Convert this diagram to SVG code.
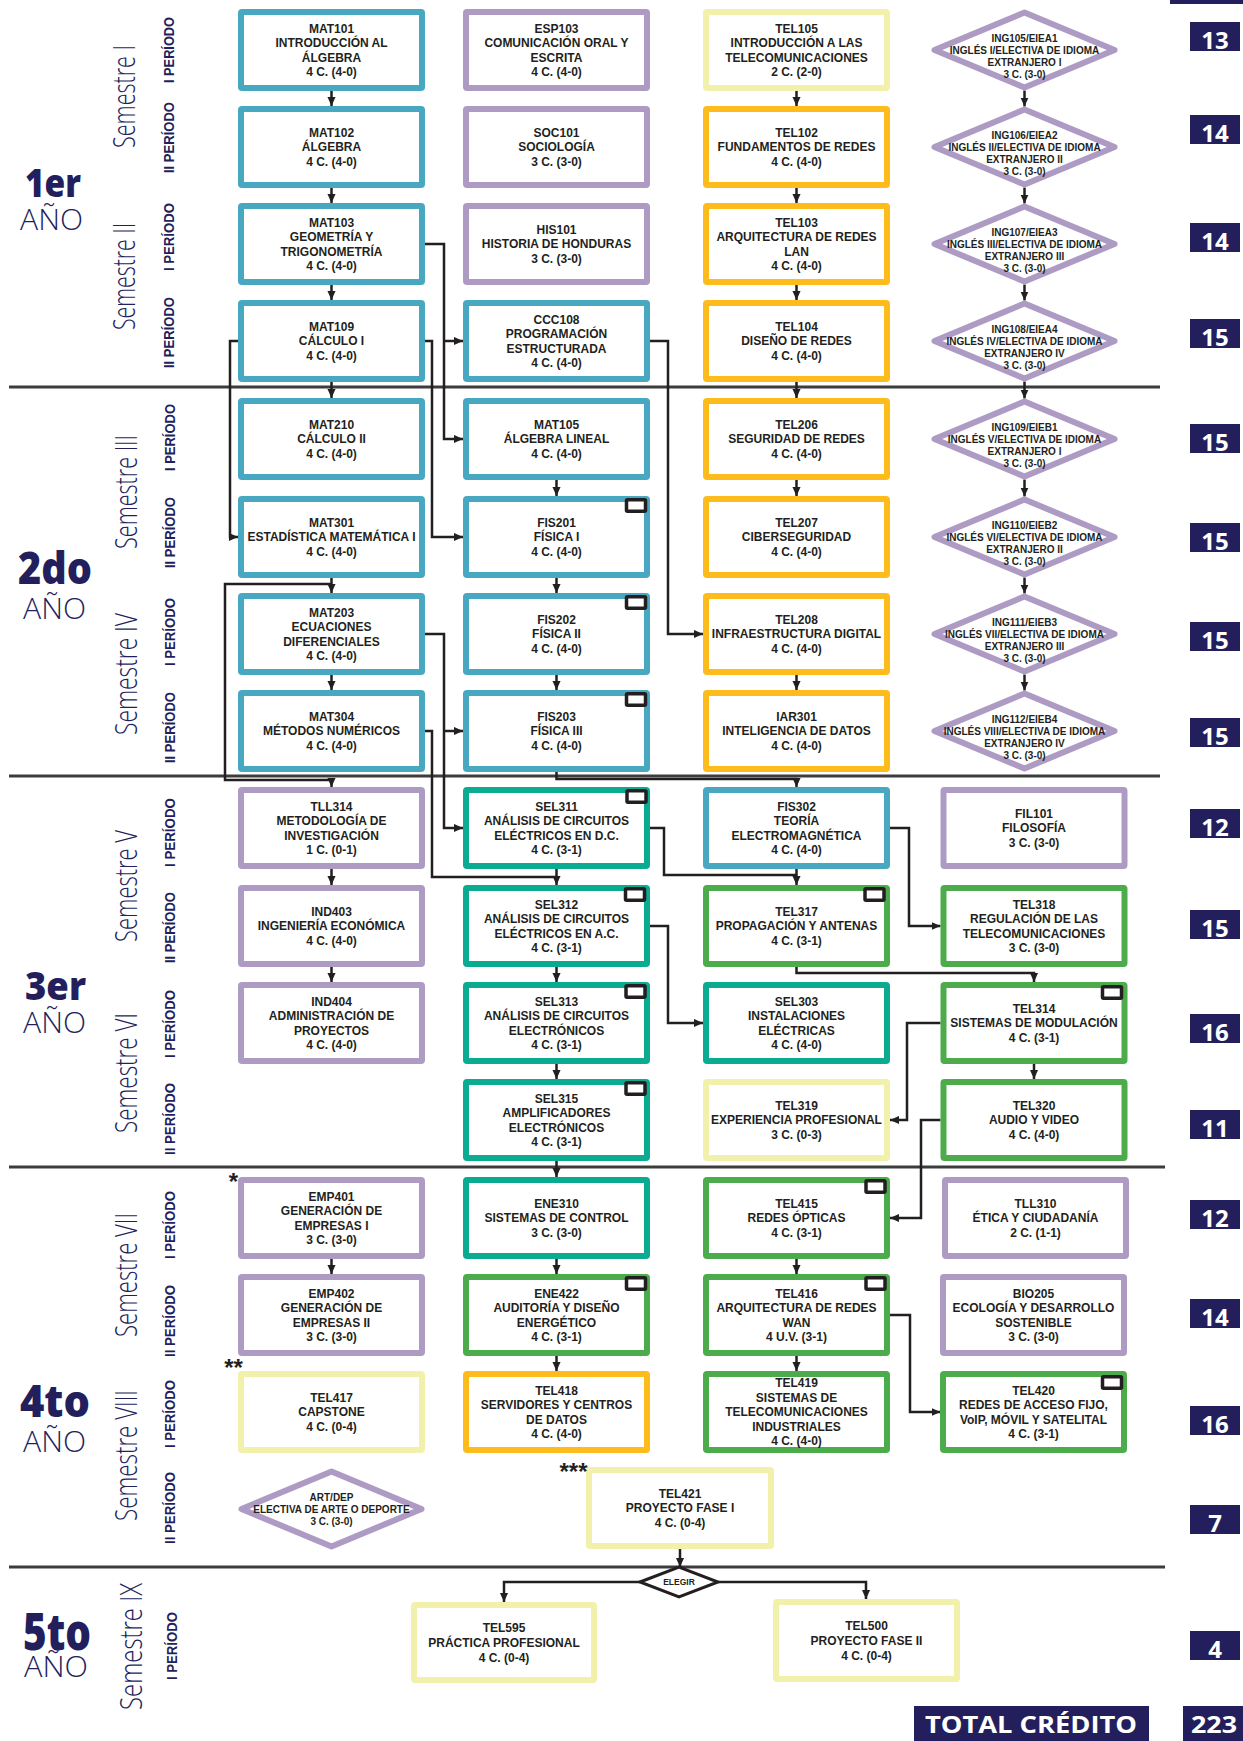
<svg xmlns="http://www.w3.org/2000/svg" width="1243" height="1741" viewBox="0 0 1243 1741">
<defs>
<style>
.b{fill:#fff;stroke-width:6;stroke-linejoin:round}
.blue{stroke:#48a7c1}.pur{stroke:#ad9bc4}.yel{stroke:#f2f1ab}.org{stroke:#fdbc1b}.teal{stroke:#0bab91}.grn{stroke:#4cab4b}
.t{font-family:"Liberation Sans",Arial,Helvetica,sans-serif;font-weight:700;font-size:12px;fill:#231f20;text-anchor:middle}
.td{font-size:10px}
.te{font-size:8.5px}
.lab{fill:#fff;stroke:#231f20;stroke-width:3.5}
.cn{fill:none;stroke:#231f20;stroke-width:2.5}
.sep{stroke:#3c3c3c;stroke-width:3}
.sem{font-family:"Open Sans",sans-serif;font-weight:300;font-size:31px;fill:#231f5c}
.per{font-family:"Liberation Sans",Arial,sans-serif;font-weight:700;font-size:15px;fill:#231f5c}
.yr{font-family:"Open Sans",sans-serif;font-weight:800;fill:#231f5c}
.ano{font-family:"Open Sans",sans-serif;font-weight:300;font-size:30px;fill:#231f5c}
.crb{fill:#231f5c}
.crt{font-family:"Open Sans",sans-serif;font-weight:700;font-size:24px;fill:#fff;text-anchor:middle}
.ast{font-family:"Liberation Sans",Arial,sans-serif;font-weight:700;font-size:24px;fill:#231f20;text-anchor:middle}
</style>
<marker id="ah" viewBox="0 0 10 10" refX="10" refY="5" markerWidth="9" markerHeight="9" markerUnits="userSpaceOnUse" orient="auto"><path d="M0,0.5 L10,5 L0,9.5 z" fill="#231f20"/></marker>
</defs>
<rect width="1243" height="1741" fill="#fff"/>
<rect x="1170" y="0" width="73" height="4" fill="#231f5c"/>

<g id="separators">
<line class="sep" x1="9" y1="387" x2="1160" y2="387"/>
<line class="sep" x1="9" y1="776" x2="1160" y2="776"/>
<line class="sep" x1="9" y1="1167" x2="1165" y2="1167"/>
<line class="sep" x1="9" y1="1567" x2="1165" y2="1567"/>
</g>

<g id="year-labels">
<text class="yr" x="25" y="197" font-size="38" textLength="56" lengthAdjust="spacingAndGlyphs">1er</text>
<text class="ano" x="20" y="230" textLength="63" lengthAdjust="spacingAndGlyphs">AÑO</text>
<text class="yr" x="18" y="584" font-size="45" textLength="74" lengthAdjust="spacingAndGlyphs">2do</text>
<text class="ano" x="23" y="619" textLength="63" lengthAdjust="spacingAndGlyphs">AÑO</text>
<text class="yr" x="25" y="1000" font-size="38" textLength="61" lengthAdjust="spacingAndGlyphs">3er</text>
<text class="ano" x="23" y="1033" textLength="63" lengthAdjust="spacingAndGlyphs">AÑO</text>
<text class="yr" x="20" y="1417" font-size="45" textLength="70" lengthAdjust="spacingAndGlyphs">4to</text>
<text class="ano" x="23" y="1452" textLength="63" lengthAdjust="spacingAndGlyphs">AÑO</text>
<text class="yr" x="23" y="1650" font-size="52" textLength="68" lengthAdjust="spacingAndGlyphs">5to</text>
<text class="ano" x="24" y="1677" textLength="64" lengthAdjust="spacingAndGlyphs">AÑO</text>
</g>

<g id="semester-labels">
<text class="sem" transform="translate(135,148) rotate(-90)" textLength="103" lengthAdjust="spacingAndGlyphs">Semestre I</text>
<text class="sem" transform="translate(135,330) rotate(-90)" textLength="107" lengthAdjust="spacingAndGlyphs">Semestre II</text>
<text class="sem" transform="translate(137,549) rotate(-90)" textLength="114" lengthAdjust="spacingAndGlyphs">Semestre III</text>
<text class="sem" transform="translate(137,735) rotate(-90)" textLength="122" lengthAdjust="spacingAndGlyphs">Semestre IV</text>
<text class="sem" transform="translate(137,942) rotate(-90)" textLength="112" lengthAdjust="spacingAndGlyphs">Semestre V</text>
<text class="sem" transform="translate(137,1133) rotate(-90)" textLength="120" lengthAdjust="spacingAndGlyphs">Semestre VI</text>
<text class="sem" transform="translate(137,1337) rotate(-90)" textLength="124" lengthAdjust="spacingAndGlyphs">Semestre VII</text>
<text class="sem" transform="translate(137,1521) rotate(-90)" textLength="131" lengthAdjust="spacingAndGlyphs">Semestre VIII</text>
<text class="sem" transform="translate(142,1710) rotate(-90)" textLength="127" lengthAdjust="spacingAndGlyphs">Semestre IX</text>
</g>

<g id="period-labels">
<text class="per" transform="translate(174,83) rotate(-90)" textLength="66" lengthAdjust="spacingAndGlyphs">I PERÍODO</text>
<text class="per" transform="translate(174,173) rotate(-90)" textLength="71" lengthAdjust="spacingAndGlyphs">II PERÍODO</text>
<text class="per" transform="translate(174,271) rotate(-90)" textLength="68" lengthAdjust="spacingAndGlyphs">I PERÍODO</text>
<text class="per" transform="translate(174,368) rotate(-90)" textLength="71" lengthAdjust="spacingAndGlyphs">II PERÍODO</text>
<text class="per" transform="translate(175,471) rotate(-90)" textLength="67" lengthAdjust="spacingAndGlyphs">I PERÍODO</text>
<text class="per" transform="translate(175,568) rotate(-90)" textLength="71" lengthAdjust="spacingAndGlyphs">II PERÍODO</text>
<text class="per" transform="translate(175,666) rotate(-90)" textLength="68" lengthAdjust="spacingAndGlyphs">I PERÍODO</text>
<text class="per" transform="translate(175,763) rotate(-90)" textLength="71" lengthAdjust="spacingAndGlyphs">II PERÍODO</text>
<text class="per" transform="translate(175,867) rotate(-90)" textLength="69" lengthAdjust="spacingAndGlyphs">I PERÍODO</text>
<text class="per" transform="translate(175,963) rotate(-90)" textLength="71" lengthAdjust="spacingAndGlyphs">II PERÍODO</text>
<text class="per" transform="translate(175,1058) rotate(-90)" textLength="68" lengthAdjust="spacingAndGlyphs">I PERÍODO</text>
<text class="per" transform="translate(175,1155) rotate(-90)" textLength="72" lengthAdjust="spacingAndGlyphs">II PERÍODO</text>
<text class="per" transform="translate(175,1259) rotate(-90)" textLength="68" lengthAdjust="spacingAndGlyphs">I PERÍODO</text>
<text class="per" transform="translate(175,1357) rotate(-90)" textLength="72" lengthAdjust="spacingAndGlyphs">II PERÍODO</text>
<text class="per" transform="translate(175,1448) rotate(-90)" textLength="68" lengthAdjust="spacingAndGlyphs">I PERÍODO</text>
<text class="per" transform="translate(175,1544) rotate(-90)" textLength="72" lengthAdjust="spacingAndGlyphs">II PERÍODO</text>
<text class="per" transform="translate(177,1680) rotate(-90)" textLength="68" lengthAdjust="spacingAndGlyphs">I PERÍODO</text>
</g>

<g id="connectors">
<path class="cn" marker-end="url(#ah)" d="M331.5,91 V106"/>
<path class="cn" marker-end="url(#ah)" d="M331.5,188 V203"/>
<path class="cn" marker-end="url(#ah)" d="M331.5,285 V300"/>
<path class="cn" marker-end="url(#ah)" d="M331.5,382 V398"/>
<path class="cn" marker-end="url(#ah)" d="M331.5,578 V593"/>
<path class="cn" marker-end="url(#ah)" d="M331.5,675 V690"/>
<path class="cn" marker-end="url(#ah)" d="M331.5,869 V885"/>
<path class="cn" marker-end="url(#ah)" d="M331.5,967 V982"/>
<path class="cn" marker-end="url(#ah)" d="M331.5,1259 V1274"/>
<path class="cn" marker-end="url(#ah)" d="M556.5,480 V496"/>
<path class="cn" marker-end="url(#ah)" d="M556.5,578 V593"/>
<path class="cn" marker-end="url(#ah)" d="M556.5,675 V690"/>
<path class="cn" marker-end="url(#ah)" d="M556.5,869 V885"/>
<path class="cn" marker-end="url(#ah)" d="M556.5,967 V982"/>
<path class="cn" marker-end="url(#ah)" d="M556.5,1064 V1079"/>
<path class="cn" marker-end="url(#ah)" d="M556.5,1161 V1177"/>
<path class="cn" marker-end="url(#ah)" d="M556.5,1259 V1274"/>
<path class="cn" marker-end="url(#ah)" d="M556.5,1356 V1371"/>
<path class="cn" marker-end="url(#ah)" d="M796.5,91 V106"/>
<path class="cn" marker-end="url(#ah)" d="M796.5,188 V203"/>
<path class="cn" marker-end="url(#ah)" d="M796.5,285 V300"/>
<path class="cn" marker-end="url(#ah)" d="M796.5,382 V398"/>
<path class="cn" marker-end="url(#ah)" d="M796.5,480 V496"/>
<path class="cn" marker-end="url(#ah)" d="M796.5,675 V690"/>
<path class="cn" marker-end="url(#ah)" d="M796.5,869 V885"/>
<path class="cn" marker-end="url(#ah)" d="M796.5,1259 V1274"/>
<path class="cn" marker-end="url(#ah)" d="M796.5,1356 V1371"/>
<path class="cn" marker-end="url(#ah)" d="M1024.5,90.5 V106.5"/>
<path class="cn" marker-end="url(#ah)" d="M1024.5,187.5 V203.5"/>
<path class="cn" marker-end="url(#ah)" d="M1024.5,284.5 V300.5"/>
<path class="cn" marker-end="url(#ah)" d="M1024.5,381.5 V398.5"/>
<path class="cn" marker-end="url(#ah)" d="M1024.5,479.5 V496.5"/>
<path class="cn" marker-end="url(#ah)" d="M1024.5,577.5 V593.5"/>
<path class="cn" marker-end="url(#ah)" d="M1024.5,674.5 V690.5"/>
<path class="cn" marker-end="url(#ah)" d="M1034,1064 V1079"/>
<path class="cn" marker-end="url(#ah)" d="M425,244 H444 V439 H463"/>
<path class="cn" marker-end="url(#ah)" d="M444,341 H463"/>
<path class="cn" marker-end="url(#ah)" d="M425,341 H432 V537 H463"/>
<path class="cn" marker-end="url(#ah)" d="M238,341 H230 V537 H238"/>
<path class="cn" marker-end="url(#ah)" d="M331.5,584 H225 V780 H331.5 V787"/>
<path class="cn" marker-end="url(#ah)" d="M650,341 H668 V634 H703"/>
<path class="cn" marker-end="url(#ah)" d="M425,634 H444 V828 H463"/>
<path class="cn" marker-end="url(#ah)" d="M444,731 H463"/>
<path class="cn" d="M425,731 H432 V877 H556.5"/>
<path class="cn" marker-end="url(#ah)" d="M556.5,772 V779 H796.5 V787"/>
<path class="cn" d="M650,828 H664 V875 H796.5"/>
<path class="cn" marker-end="url(#ah)" d="M890,828 H909 V926 H940.5"/>
<path class="cn" marker-end="url(#ah)" d="M650,926 H668 V1023 H703"/>
<path class="cn" marker-end="url(#ah)" d="M796.5,966 V973 H1034 V982"/>
<path class="cn" marker-end="url(#ah)" d="M940.5,1023 H907 V1120 H890"/>
<path class="cn" marker-end="url(#ah)" d="M940.5,1120 H921 V1218 H890"/>
<path class="cn" marker-end="url(#ah)" d="M890,1315 H910 V1412 H940.5"/>
<path class="cn" marker-end="url(#ah)" d="M680,1549 V1567"/>
<path class="cn" marker-end="url(#ah)" d="M640,1582 H504 V1602"/>
<path class="cn" marker-end="url(#ah)" d="M718,1582 H866 V1599"/>
</g>

<g id="MAT101"><rect class="b blue" x="241" y="12" width="181" height="76" rx="1"/><text class="t" x="331.5" y="32.55"><tspan x="331.5">MAT101</tspan><tspan x="331.5" dy="14.5">INTRODUCCIÓN AL</tspan><tspan x="331.5" dy="14.5">ÁLGEBRA</tspan><tspan x="331.5" dy="14.5">4 C. (4-0)</tspan></text></g>
<g id="ESP103"><rect class="b pur" x="466" y="12" width="181" height="76" rx="1"/><text class="t" x="556.5" y="32.55"><tspan x="556.5">ESP103</tspan><tspan x="556.5" dy="14.5">COMUNICACIÓN ORAL Y</tspan><tspan x="556.5" dy="14.5">ESCRITA</tspan><tspan x="556.5" dy="14.5">4 C. (4-0)</tspan></text></g>
<g id="TEL105"><rect class="b yel" x="706" y="12" width="181" height="76" rx="1"/><text class="t" x="796.5" y="32.55"><tspan x="796.5">TEL105</tspan><tspan x="796.5" dy="14.5">INTRODUCCIÓN A LAS</tspan><tspan x="796.5" dy="14.5">TELECOMUNICACIONES</tspan><tspan x="796.5" dy="14.5">2 C. (2-0)</tspan></text></g>
<g id="ING105"><polygon class="b pur" points="934.5,50 1024.5,12.5 1114.5,50 1024.5,87.5"/><text class="t td" x="1024.5" y="41.6"><tspan x="1024.5">ING105/EIEA1</tspan><tspan x="1024.5" dy="12">INGLÉS I/ELECTIVA DE IDIOMA</tspan><tspan x="1024.5" dy="12">EXTRANJERO I</tspan><tspan x="1024.5" dy="12">3 C. (3-0)</tspan></text></g>

<g id="MAT102"><rect class="b blue" x="241" y="109" width="181" height="76" rx="1"/><text class="t" x="331.5" y="136.8"><tspan x="331.5">MAT102</tspan><tspan x="331.5" dy="14.5">ÁLGEBRA</tspan><tspan x="331.5" dy="14.5">4 C. (4-0)</tspan></text></g>
<g id="SOC101"><rect class="b pur" x="466" y="109" width="181" height="76" rx="1"/><text class="t" x="556.5" y="136.8"><tspan x="556.5">SOC101</tspan><tspan x="556.5" dy="14.5">SOCIOLOGÍA</tspan><tspan x="556.5" dy="14.5">3 C. (3-0)</tspan></text></g>
<g id="TEL102"><rect class="b org" x="706" y="109" width="181" height="76" rx="1"/><text class="t" x="796.5" y="136.8"><tspan x="796.5">TEL102</tspan><tspan x="796.5" dy="14.5">FUNDAMENTOS DE REDES</tspan><tspan x="796.5" dy="14.5">4 C. (4-0)</tspan></text></g>
<g id="ING106"><polygon class="b pur" points="934.5,147 1024.5,109.5 1114.5,147 1024.5,184.5"/><text class="t td" x="1024.5" y="138.6"><tspan x="1024.5">ING106/EIEA2</tspan><tspan x="1024.5" dy="12">INGLÉS II/ELECTIVA DE IDIOMA</tspan><tspan x="1024.5" dy="12">EXTRANJERO II</tspan><tspan x="1024.5" dy="12">3 C. (3-0)</tspan></text></g>

<g id="MAT103"><rect class="b blue" x="241" y="206" width="181" height="76" rx="1"/><text class="t" x="331.5" y="226.55"><tspan x="331.5">MAT103</tspan><tspan x="331.5" dy="14.5">GEOMETRÍA Y</tspan><tspan x="331.5" dy="14.5">TRIGONOMETRÍA</tspan><tspan x="331.5" dy="14.5">4 C. (4-0)</tspan></text></g>
<g id="HIS101"><rect class="b pur" x="466" y="206" width="181" height="76" rx="1"/><text class="t" x="556.5" y="233.8"><tspan x="556.5">HIS101</tspan><tspan x="556.5" dy="14.5">HISTORIA DE HONDURAS</tspan><tspan x="556.5" dy="14.5">3 C. (3-0)</tspan></text></g>
<g id="TEL103"><rect class="b org" x="706" y="206" width="181" height="76" rx="1"/><text class="t" x="796.5" y="226.55"><tspan x="796.5">TEL103</tspan><tspan x="796.5" dy="14.5">ARQUITECTURA DE REDES</tspan><tspan x="796.5" dy="14.5">LAN</tspan><tspan x="796.5" dy="14.5">4 C. (4-0)</tspan></text></g>
<g id="ING107"><polygon class="b pur" points="934.5,244 1024.5,206.5 1114.5,244 1024.5,281.5"/><text class="t td" x="1024.5" y="235.6"><tspan x="1024.5">ING107/EIEA3</tspan><tspan x="1024.5" dy="12">INGLÉS III/ELECTIVA DE IDIOMA</tspan><tspan x="1024.5" dy="12">EXTRANJERO III</tspan><tspan x="1024.5" dy="12">3 C. (3-0)</tspan></text></g>

<g id="MAT109"><rect class="b blue" x="241" y="303" width="181" height="76" rx="1"/><text class="t" x="331.5" y="330.8"><tspan x="331.5">MAT109</tspan><tspan x="331.5" dy="14.5">CÁLCULO I</tspan><tspan x="331.5" dy="14.5">4 C. (4-0)</tspan></text></g>
<g id="CCC108"><rect class="b blue" x="466" y="303" width="181" height="76" rx="1"/><text class="t" x="556.5" y="323.55"><tspan x="556.5">CCC108</tspan><tspan x="556.5" dy="14.5">PROGRAMACIÓN</tspan><tspan x="556.5" dy="14.5">ESTRUCTURADA</tspan><tspan x="556.5" dy="14.5">4 C. (4-0)</tspan></text></g>
<g id="TEL104"><rect class="b org" x="706" y="303" width="181" height="76" rx="1"/><text class="t" x="796.5" y="330.8"><tspan x="796.5">TEL104</tspan><tspan x="796.5" dy="14.5">DISEÑO DE REDES</tspan><tspan x="796.5" dy="14.5">4 C. (4-0)</tspan></text></g>
<g id="ING108"><polygon class="b pur" points="934.5,341 1024.5,303.5 1114.5,341 1024.5,378.5"/><text class="t td" x="1024.5" y="332.6"><tspan x="1024.5">ING108/EIEA4</tspan><tspan x="1024.5" dy="12">INGLÉS IV/ELECTIVA DE IDIOMA</tspan><tspan x="1024.5" dy="12">EXTRANJERO IV</tspan><tspan x="1024.5" dy="12">3 C. (3-0)</tspan></text></g>

<g id="MAT210"><rect class="b blue" x="241" y="401" width="181" height="76" rx="1"/><text class="t" x="331.5" y="428.8"><tspan x="331.5">MAT210</tspan><tspan x="331.5" dy="14.5">CÁLCULO II</tspan><tspan x="331.5" dy="14.5">4 C. (4-0)</tspan></text></g>
<g id="MAT105"><rect class="b blue" x="466" y="401" width="181" height="76" rx="1"/><text class="t" x="556.5" y="428.8"><tspan x="556.5">MAT105</tspan><tspan x="556.5" dy="14.5">ÁLGEBRA LINEAL</tspan><tspan x="556.5" dy="14.5">4 C. (4-0)</tspan></text></g>
<g id="TEL206"><rect class="b org" x="706" y="401" width="181" height="76" rx="1"/><text class="t" x="796.5" y="428.8"><tspan x="796.5">TEL206</tspan><tspan x="796.5" dy="14.5">SEGURIDAD DE REDES</tspan><tspan x="796.5" dy="14.5">4 C. (4-0)</tspan></text></g>
<g id="ING109"><polygon class="b pur" points="934.5,439 1024.5,401.5 1114.5,439 1024.5,476.5"/><text class="t td" x="1024.5" y="430.6"><tspan x="1024.5">ING109/EIEB1</tspan><tspan x="1024.5" dy="12">INGLÉS V/ELECTIVA DE IDIOMA</tspan><tspan x="1024.5" dy="12">EXTRANJERO I</tspan><tspan x="1024.5" dy="12">3 C. (3-0)</tspan></text></g>

<g id="MAT301"><rect class="b blue" x="241" y="499" width="181" height="76" rx="1"/><text class="t" x="331.5" y="526.8"><tspan x="331.5">MAT301</tspan><tspan x="331.5" dy="14.5">ESTADÍSTICA MATEMÁTICA I</tspan><tspan x="331.5" dy="14.5">4 C. (4-0)</tspan></text></g>
<g id="FIS201"><rect class="b blue" x="466" y="499" width="181" height="76" rx="1"/><rect class="lab" x="626.5" y="499.75" width="19" height="11.5" rx="1"/><text class="t" x="556.5" y="526.8"><tspan x="556.5">FIS201</tspan><tspan x="556.5" dy="14.5">FÍSICA I</tspan><tspan x="556.5" dy="14.5">4 C. (4-0)</tspan></text></g>
<g id="TEL207"><rect class="b org" x="706" y="499" width="181" height="76" rx="1"/><text class="t" x="796.5" y="526.8"><tspan x="796.5">TEL207</tspan><tspan x="796.5" dy="14.5">CIBERSEGURIDAD</tspan><tspan x="796.5" dy="14.5">4 C. (4-0)</tspan></text></g>
<g id="ING110"><polygon class="b pur" points="934.5,537 1024.5,499.5 1114.5,537 1024.5,574.5"/><text class="t td" x="1024.5" y="528.6"><tspan x="1024.5">ING110/EIEB2</tspan><tspan x="1024.5" dy="12">INGLÉS VI/ELECTIVA DE IDIOMA</tspan><tspan x="1024.5" dy="12">EXTRANJERO II</tspan><tspan x="1024.5" dy="12">3 C. (3-0)</tspan></text></g>

<g id="MAT203"><rect class="b blue" x="241" y="596" width="181" height="76" rx="1"/><text class="t" x="331.5" y="616.55"><tspan x="331.5">MAT203</tspan><tspan x="331.5" dy="14.5">ECUACIONES</tspan><tspan x="331.5" dy="14.5">DIFERENCIALES</tspan><tspan x="331.5" dy="14.5">4 C. (4-0)</tspan></text></g>
<g id="FIS202"><rect class="b blue" x="466" y="596" width="181" height="76" rx="1"/><rect class="lab" x="626.5" y="596.75" width="19" height="11.5" rx="1"/><text class="t" x="556.5" y="623.8"><tspan x="556.5">FIS202</tspan><tspan x="556.5" dy="14.5">FÍSICA II</tspan><tspan x="556.5" dy="14.5">4 C. (4-0)</tspan></text></g>
<g id="TEL208"><rect class="b org" x="706" y="596" width="181" height="76" rx="1"/><text class="t" x="796.5" y="623.8"><tspan x="796.5">TEL208</tspan><tspan x="796.5" dy="14.5">INFRAESTRUCTURA DIGITAL</tspan><tspan x="796.5" dy="14.5">4 C. (4-0)</tspan></text></g>
<g id="ING111"><polygon class="b pur" points="934.5,634 1024.5,596.5 1114.5,634 1024.5,671.5"/><text class="t td" x="1024.5" y="625.6"><tspan x="1024.5">ING111/EIEB3</tspan><tspan x="1024.5" dy="12">INGLÉS VII/ELECTIVA DE IDIOMA</tspan><tspan x="1024.5" dy="12">EXTRANJERO III</tspan><tspan x="1024.5" dy="12">3 C. (3-0)</tspan></text></g>

<g id="MAT304"><rect class="b blue" x="241" y="693" width="181" height="76" rx="1"/><text class="t" x="331.5" y="720.8"><tspan x="331.5">MAT304</tspan><tspan x="331.5" dy="14.5">MÉTODOS NUMÉRICOS</tspan><tspan x="331.5" dy="14.5">4 C. (4-0)</tspan></text></g>
<g id="FIS203"><rect class="b blue" x="466" y="693" width="181" height="76" rx="1"/><rect class="lab" x="626.5" y="693.75" width="19" height="11.5" rx="1"/><text class="t" x="556.5" y="720.8"><tspan x="556.5">FIS203</tspan><tspan x="556.5" dy="14.5">FÍSICA III</tspan><tspan x="556.5" dy="14.5">4 C. (4-0)</tspan></text></g>
<g id="IAR301"><rect class="b org" x="706" y="693" width="181" height="76" rx="1"/><text class="t" x="796.5" y="720.8"><tspan x="796.5">IAR301</tspan><tspan x="796.5" dy="14.5">INTELIGENCIA DE DATOS</tspan><tspan x="796.5" dy="14.5">4 C. (4-0)</tspan></text></g>
<g id="ING112"><polygon class="b pur" points="934.5,731 1024.5,693.5 1114.5,731 1024.5,768.5"/><text class="t td" x="1024.5" y="722.6"><tspan x="1024.5">ING112/EIEB4</tspan><tspan x="1024.5" dy="12">INGLÉS VIII/ELECTIVA DE IDIOMA</tspan><tspan x="1024.5" dy="12">EXTRANJERO IV</tspan><tspan x="1024.5" dy="12">3 C. (3-0)</tspan></text></g>

<g id="TLL314"><rect class="b pur" x="241" y="790" width="181" height="76" rx="1"/><text class="t" x="331.5" y="810.55"><tspan x="331.5">TLL314</tspan><tspan x="331.5" dy="14.5">METODOLOGÍA DE</tspan><tspan x="331.5" dy="14.5">INVESTIGACIÓN</tspan><tspan x="331.5" dy="14.5">1 C. (0-1)</tspan></text></g>
<g id="SEL311"><rect class="b teal" x="466" y="790" width="181" height="76" rx="1"/><rect class="lab" x="627" y="790.75" width="19" height="11.5" rx="1"/><text class="t" x="556.5" y="810.55"><tspan x="556.5">SEL311</tspan><tspan x="556.5" dy="14.5">ANÁLISIS DE CIRCUITOS</tspan><tspan x="556.5" dy="14.5">ELÉCTRICOS EN D.C.</tspan><tspan x="556.5" dy="14.5">4 C. (3-1)</tspan></text></g>
<g id="FIS302"><rect class="b blue" x="706" y="790" width="181" height="76" rx="1"/><text class="t" x="796.5" y="810.55"><tspan x="796.5">FIS302</tspan><tspan x="796.5" dy="14.5">TEORÍA</tspan><tspan x="796.5" dy="14.5">ELECTROMAGNÉTICA</tspan><tspan x="796.5" dy="14.5">4 C. (4-0)</tspan></text></g>
<g id="FIL101"><rect class="b pur" x="943.5" y="790" width="181" height="76" rx="1"/><text class="t" x="1034" y="817.8"><tspan x="1034">FIL101</tspan><tspan x="1034" dy="14.5">FILOSOFÍA</tspan><tspan x="1034" dy="14.5">3 C. (3-0)</tspan></text></g>

<g id="IND403"><rect class="b pur" x="241" y="888" width="181" height="76" rx="1"/><text class="t" x="331.5" y="915.8"><tspan x="331.5">IND403</tspan><tspan x="331.5" dy="14.5">INGENIERÍA ECONÓMICA</tspan><tspan x="331.5" dy="14.5">4 C. (4-0)</tspan></text></g>
<g id="SEL312"><rect class="b teal" x="466" y="888" width="181" height="76" rx="1"/><rect class="lab" x="625.5" y="888.75" width="19" height="11.5" rx="1"/><text class="t" x="556.5" y="908.55"><tspan x="556.5">SEL312</tspan><tspan x="556.5" dy="14.5">ANÁLISIS DE CIRCUITOS</tspan><tspan x="556.5" dy="14.5">ELÉCTRICOS EN A.C.</tspan><tspan x="556.5" dy="14.5">4 C. (3-1)</tspan></text></g>
<g id="TEL317"><rect class="b grn" x="706" y="888" width="181" height="76" rx="1"/><rect class="lab" x="865" y="888.75" width="19" height="11.5" rx="1"/><text class="t" x="796.5" y="915.8"><tspan x="796.5">TEL317</tspan><tspan x="796.5" dy="14.5">PROPAGACIÓN Y ANTENAS</tspan><tspan x="796.5" dy="14.5">4 C. (3-1)</tspan></text></g>
<g id="TEL318"><rect class="b grn" x="943.5" y="888" width="181" height="76" rx="1"/><text class="t" x="1034" y="908.55"><tspan x="1034">TEL318</tspan><tspan x="1034" dy="14.5">REGULACIÓN DE LAS</tspan><tspan x="1034" dy="14.5">TELECOMUNICACIONES</tspan><tspan x="1034" dy="14.5">3 C. (3-0)</tspan></text></g>

<g id="IND404"><rect class="b pur" x="241" y="985" width="181" height="76" rx="1"/><text class="t" x="331.5" y="1005.55"><tspan x="331.5">IND404</tspan><tspan x="331.5" dy="14.5">ADMINISTRACIÓN DE</tspan><tspan x="331.5" dy="14.5">PROYECTOS</tspan><tspan x="331.5" dy="14.5">4 C. (4-0)</tspan></text></g>
<g id="SEL313"><rect class="b teal" x="466" y="985" width="181" height="76" rx="1"/><rect class="lab" x="626" y="985.75" width="19" height="11.5" rx="1"/><text class="t" x="556.5" y="1005.55"><tspan x="556.5">SEL313</tspan><tspan x="556.5" dy="14.5">ANÁLISIS DE CIRCUITOS</tspan><tspan x="556.5" dy="14.5">ELECTRÓNICOS</tspan><tspan x="556.5" dy="14.5">4 C. (3-1)</tspan></text></g>
<g id="SEL303"><rect class="b teal" x="706" y="985" width="181" height="76" rx="1"/><text class="t" x="796.5" y="1005.55"><tspan x="796.5">SEL303</tspan><tspan x="796.5" dy="14.5">INSTALACIONES</tspan><tspan x="796.5" dy="14.5">ELÉCTRICAS</tspan><tspan x="796.5" dy="14.5">4 C. (4-0)</tspan></text></g>
<g id="TEL314"><rect class="b grn" x="943.5" y="985" width="181" height="76" rx="1"/><rect class="lab" x="1102.5" y="986.75" width="19" height="11.5" rx="1"/><text class="t" x="1034" y="1012.8"><tspan x="1034">TEL314</tspan><tspan x="1034" dy="14.5">SISTEMAS DE MODULACIÓN</tspan><tspan x="1034" dy="14.5">4 C. (3-1)</tspan></text></g>

<g id="SEL315"><rect class="b teal" x="466" y="1082" width="181" height="76" rx="1"/><rect class="lab" x="626" y="1082.75" width="19" height="11.5" rx="1"/><text class="t" x="556.5" y="1102.55"><tspan x="556.5">SEL315</tspan><tspan x="556.5" dy="14.5">AMPLIFICADORES</tspan><tspan x="556.5" dy="14.5">ELECTRÓNICOS</tspan><tspan x="556.5" dy="14.5">4 C. (3-1)</tspan></text></g>
<g id="TEL319"><rect class="b yel" x="706" y="1082" width="181" height="76" rx="1"/><text class="t" x="796.5" y="1109.8"><tspan x="796.5">TEL319</tspan><tspan x="796.5" dy="14.5">EXPERIENCIA PROFESIONAL</tspan><tspan x="796.5" dy="14.5">3 C. (0-3)</tspan></text></g>
<g id="TEL320"><rect class="b grn" x="943.5" y="1082" width="181" height="76" rx="1"/><text class="t" x="1034" y="1109.8"><tspan x="1034">TEL320</tspan><tspan x="1034" dy="14.5">AUDIO Y VIDEO</tspan><tspan x="1034" dy="14.5">4 C. (4-0)</tspan></text></g>

<g id="EMP401"><rect class="b pur" x="241" y="1180" width="181" height="76" rx="1"/><text class="t" x="331.5" y="1200.55"><tspan x="331.5">EMP401</tspan><tspan x="331.5" dy="14.5">GENERACIÓN DE</tspan><tspan x="331.5" dy="14.5">EMPRESAS I</tspan><tspan x="331.5" dy="14.5">3 C. (3-0)</tspan></text><text class="ast" x="233.5" y="1189.5">*</text></g>
<g id="ENE310"><rect class="b teal" x="466" y="1180" width="181" height="76" rx="1"/><text class="t" x="556.5" y="1207.8"><tspan x="556.5">ENE310</tspan><tspan x="556.5" dy="14.5">SISTEMAS DE CONTROL</tspan><tspan x="556.5" dy="14.5">3 C. (3-0)</tspan></text></g>
<g id="TEL415"><rect class="b grn" x="706" y="1180" width="181" height="76" rx="1"/><rect class="lab" x="866" y="1180.75" width="19" height="11.5" rx="1"/><text class="t" x="796.5" y="1207.8"><tspan x="796.5">TEL415</tspan><tspan x="796.5" dy="14.5">REDES ÓPTICAS</tspan><tspan x="796.5" dy="14.5">4 C. (3-1)</tspan></text></g>
<g id="TLL310"><rect class="b pur" x="945" y="1180" width="181" height="76" rx="1"/><text class="t" x="1035.5" y="1207.8"><tspan x="1035.5">TLL310</tspan><tspan x="1035.5" dy="14.5">ÉTICA Y CIUDADANÍA</tspan><tspan x="1035.5" dy="14.5">2 C. (1-1)</tspan></text></g>

<g id="EMP402"><rect class="b pur" x="241" y="1277" width="181" height="76" rx="1"/><text class="t" x="331.5" y="1297.55"><tspan x="331.5">EMP402</tspan><tspan x="331.5" dy="14.5">GENERACIÓN DE</tspan><tspan x="331.5" dy="14.5">EMPRESAS II</tspan><tspan x="331.5" dy="14.5">3 C. (3-0)</tspan></text></g>
<g id="ENE422"><rect class="b grn" x="466" y="1277" width="181" height="76" rx="1"/><rect class="lab" x="626.5" y="1277.75" width="19" height="11.5" rx="1"/><text class="t" x="556.5" y="1297.55"><tspan x="556.5">ENE422</tspan><tspan x="556.5" dy="14.5">AUDITORÍA Y DISEÑO</tspan><tspan x="556.5" dy="14.5">ENERGÉTICO</tspan><tspan x="556.5" dy="14.5">4 C. (3-1)</tspan></text></g>
<g id="TEL416"><rect class="b grn" x="706" y="1277" width="181" height="76" rx="1"/><rect class="lab" x="866" y="1277.75" width="19" height="11.5" rx="1"/><text class="t" x="796.5" y="1297.55"><tspan x="796.5">TEL416</tspan><tspan x="796.5" dy="14.5">ARQUITECTURA DE REDES</tspan><tspan x="796.5" dy="14.5">WAN</tspan><tspan x="796.5" dy="14.5">4 U.V. (3-1)</tspan></text></g>
<g id="BIO205"><rect class="b pur" x="943" y="1277" width="181" height="76" rx="1"/><text class="t" x="1033.5" y="1297.55"><tspan x="1033.5">BIO205</tspan><tspan x="1033.5" dy="14.5">ECOLOGÍA Y DESARROLLO</tspan><tspan x="1033.5" dy="14.5">SOSTENIBLE</tspan><tspan x="1033.5" dy="14.5">3 C. (3-0)</tspan></text></g>

<g id="TEL417"><rect class="b yel" x="241" y="1374" width="181" height="76" rx="1"/><text class="t" x="331.5" y="1401.8"><tspan x="331.5">TEL417</tspan><tspan x="331.5" dy="14.5">CAPSTONE</tspan><tspan x="331.5" dy="14.5">4 C. (0-4)</tspan></text><text class="ast" x="233.5" y="1375.5">**</text></g>
<g id="TEL418"><rect class="b org" x="466" y="1374" width="181" height="76" rx="1"/><text class="t" x="556.5" y="1394.55"><tspan x="556.5">TEL418</tspan><tspan x="556.5" dy="14.5">SERVIDORES Y CENTROS</tspan><tspan x="556.5" dy="14.5">DE DATOS</tspan><tspan x="556.5" dy="14.5">4 C. (4-0)</tspan></text></g>
<g id="TEL419"><rect class="b grn" x="706" y="1374" width="181" height="76" rx="1"/><text class="t" x="796.5" y="1387.3"><tspan x="796.5">TEL419</tspan><tspan x="796.5" dy="14.5">SISTEMAS DE</tspan><tspan x="796.5" dy="14.5">TELECOMUNICACIONES</tspan><tspan x="796.5" dy="14.5">INDUSTRIALES</tspan><tspan x="796.5" dy="14.5">4 C. (4-0)</tspan></text></g>
<g id="TEL420"><rect class="b grn" x="943" y="1374" width="181" height="76" rx="1"/><rect class="lab" x="1102.5" y="1376.75" width="19" height="11.5" rx="1"/><text class="t" x="1033.5" y="1394.55"><tspan x="1033.5">TEL420</tspan><tspan x="1033.5" dy="14.5">REDES DE ACCESO FIJO,</tspan><tspan x="1033.5" dy="14.5">VoIP, MÓVIL Y SATELITAL</tspan><tspan x="1033.5" dy="14.5">4 C. (3-1)</tspan></text></g>

<g id="ARTDEP"><polygon class="b pur" points="241.5,1509 331.5,1471.5 421.5,1509 331.5,1546.5"/><text class="t td" x="331.5" y="1500.6"><tspan x="331.5">ART/DEP</tspan><tspan x="331.5" dy="12">ELECTIVA DE ARTE O DEPORTE</tspan><tspan x="331.5" dy="12">3 C. (3-0)</tspan></text></g>
<g id="TEL421"><rect class="b yel" x="589" y="1470" width="182" height="76" rx="1"/><text class="t" x="680" y="1497.8"><tspan x="680">TEL421</tspan><tspan x="680" dy="14.5">PROYECTO FASE I</tspan><tspan x="680" dy="14.5">4 C. (0-4)</tspan></text><text class="ast" x="573.5" y="1479.5">***</text></g>

<g id="ELEGIR"><polygon points="640,1582 679,1567 718,1582 679,1597" fill="#fff" stroke="#231f20" stroke-width="3" stroke-linejoin="miter"/><text class="t te" x="679" y="1585">ELEGIR</text></g>
<g id="TEL595"><rect class="b yel" x="414" y="1605" width="180" height="75" rx="1"/><text class="t" x="504" y="1631.8"><tspan x="504">TEL595</tspan><tspan x="504" dy="15">PRÁCTICA PROFESIONAL</tspan><tspan x="504" dy="15">4 C. (0-4)</tspan></text></g>
<g id="TEL500"><rect class="b yel" x="776" y="1602" width="181" height="77" rx="1"/><text class="t" x="866.5" y="1629.8"><tspan x="866.5">TEL500</tspan><tspan x="866.5" dy="15">PROYECTO FASE II</tspan><tspan x="866.5" dy="15">4 C. (0-4)</tspan></text></g>

<g id="credits">
<rect class="crb" x="1190" y="22" width="50" height="29"/><text class="crt" x="1215" y="49">13</text>
<rect class="crb" x="1190" y="115" width="50" height="29"/><text class="crt" x="1215" y="142">14</text>
<rect class="crb" x="1190" y="223" width="50" height="29"/><text class="crt" x="1215" y="250">14</text>
<rect class="crb" x="1190" y="319" width="50" height="29"/><text class="crt" x="1215" y="346">15</text>
<rect class="crb" x="1190" y="424" width="50" height="29"/><text class="crt" x="1215" y="451">15</text>
<rect class="crb" x="1190" y="523" width="50" height="29"/><text class="crt" x="1215" y="550">15</text>
<rect class="crb" x="1190" y="622" width="50" height="29"/><text class="crt" x="1215" y="649">15</text>
<rect class="crb" x="1190" y="718" width="50" height="29"/><text class="crt" x="1215" y="745">15</text>
<rect class="crb" x="1190" y="809" width="50" height="29"/><text class="crt" x="1215" y="836">12</text>
<rect class="crb" x="1190" y="910" width="50" height="29"/><text class="crt" x="1215" y="937">15</text>
<rect class="crb" x="1190" y="1014" width="50" height="29"/><text class="crt" x="1215" y="1041">16</text>
<rect class="crb" x="1190" y="1110" width="50" height="29"/><text class="crt" x="1215" y="1137">11</text>
<rect class="crb" x="1190" y="1200" width="50" height="29"/><text class="crt" x="1215" y="1227">12</text>
<rect class="crb" x="1190" y="1299" width="50" height="29"/><text class="crt" x="1215" y="1326">14</text>
<rect class="crb" x="1190" y="1406" width="50" height="29"/><text class="crt" x="1215" y="1433">16</text>
<rect class="crb" x="1190" y="1505" width="50" height="29"/><text class="crt" x="1215" y="1532">7</text>
<rect class="crb" x="1190" y="1631" width="50" height="29"/><text class="crt" x="1215" y="1658">4</text>
<rect class="crb" x="914" y="1706" width="235" height="35"/><text class="crt" x="1031" y="1733" font-size="28" textLength="212" lengthAdjust="spacingAndGlyphs">TOTAL CRÉDITO</text>
<rect class="crb" x="1183" y="1706" width="60" height="35"/><text class="crt" x="1214" y="1733" font-size="28" textLength="46" lengthAdjust="spacingAndGlyphs">223</text>
</g>
</svg>
